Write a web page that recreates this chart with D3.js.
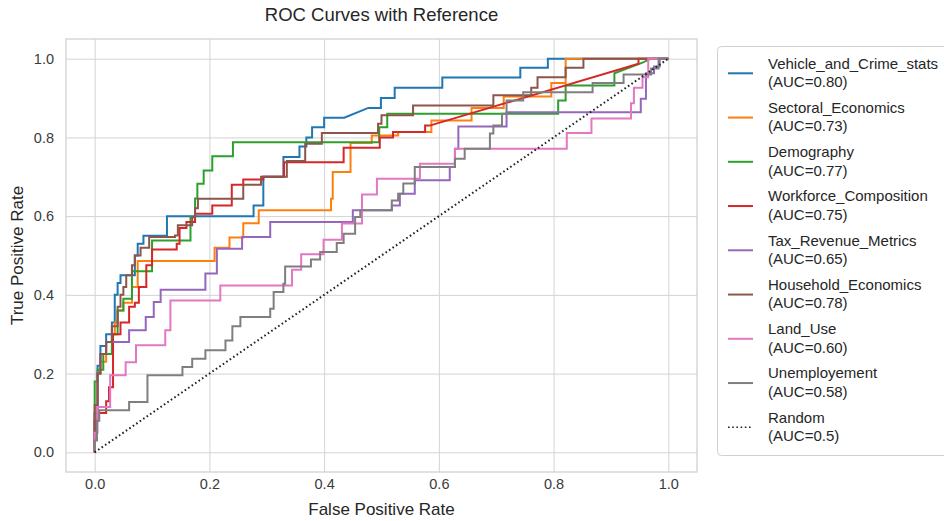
<!DOCTYPE html>
<html lang="en">
<head>
<meta charset="UTF-8">
<title>ROC Curves with Reference</title>
<script src="https://d3js.org/d3.v7.min.js"></script>
<style>
    body { margin: 0; background: #fff; }
    svg { display: block; font-family: "Liberation Sans", Arial, sans-serif; }
    .axis .domain { display: none; }
    .axis line { stroke: #d3d3d3; stroke-width: 1; }
    .axis text { fill: #3b3b3b; font-size: 14.5px; font-family: "Liberation Sans", Arial, sans-serif; }
    .curve { fill: none; stroke-width: 2; stroke-linejoin: miter; }
    .label { fill: #262626; }
</style>
</head>
<body>
<svg id="chart" width="944" height="521"></svg>
<script>
    // legend names and AUC values, same order as plotting
    const seriesNames = ['Vehicle_and_Crime_stats', 'Sectoral_Economics', 'Demography', 'Workforce_Composition',
        'Tax_Revenue_Metrics', 'Household_Economics', 'Land_Use', 'Unemployement'];
    const aucValues = ['0.80', '0.73', '0.77', '0.75', '0.65', '0.78', '0.60', '0.58'];
    const tickValues = [0, 0.2, 0.4, 0.6, 0.8, 1.0];

    // ROC points [fpr, tpr]
    const rocVehicle = [[0,0],[0,0.08],[0.005,0.08],[0.005,0.22],[0.01,0.22],[0.01,0.27],[0.02,0.27],[0.02,0.30],
        [0.03,0.30],[0.03,0.33],[0.035,0.33],[0.035,0.40],[0.04,0.40],[0.04,0.43],[0.045,0.43],[0.045,0.45],
        [0.07,0.45],[0.07,0.50],[0.075,0.50],[0.075,0.53],[0.085,0.53],[0.085,0.55],[0.126,0.55],[0.126,0.60],
        [0.277,0.60],[0.277,0.627],[0.294,0.627],[0.294,0.70],[0.329,0.70],[0.329,0.75],[0.357,0.75],[0.357,0.777],
        [0.369,0.777],[0.369,0.80],[0.379,0.80],[0.379,0.826],[0.40,0.826],[0.40,0.85],[0.435,0.85],[0.477,0.875],
        [0.499,0.875],[0.499,0.90],[0.523,0.90],[0.523,0.926],[0.606,0.926],[0.606,0.952],[0.742,0.952],
        [0.742,0.977],[0.79,0.977],[0.79,1],[1,1]];
    const rocSectoral = [[0,0],[0,0.1],[0.005,0.1],[0.005,0.2],[0.01,0.2],[0.01,0.23],[0.02,0.23],[0.02,0.28],
        [0.03,0.28],[0.03,0.30],[0.035,0.30],[0.035,0.33],[0.04,0.33],[0.04,0.36],[0.05,0.36],[0.05,0.38],
        [0.065,0.38],[0.065,0.42],[0.075,0.42],[0.075,0.486],[0.209,0.486],[0.209,0.52],[0.235,0.52],[0.235,0.546],
        [0.259,0.546],[0.259,0.582],[0.286,0.582],[0.286,0.615],[0.412,0.615],[0.412,0.644],[0.415,0.644],
        [0.415,0.712],[0.446,0.712],[0.446,0.786],[0.483,0.786],[0.483,0.805],[0.529,0.805],[0.529,0.814],
        [0.587,0.814],[0.587,0.843],[0.657,0.843],[0.657,0.875],[0.713,0.875],[0.713,0.904],[0.796,0.904],
        [0.796,0.938],[0.821,0.938],[0.821,1],[1,1]];
    const rocDemography = [[0,0],[0,0.18],[0.005,0.18],[0.005,0.21],[0.015,0.21],[0.015,0.25],[0.03,0.25],[0.03,0.30],
        [0.04,0.30],[0.04,0.36],[0.05,0.36],[0.05,0.39],[0.065,0.39],[0.065,0.46],[0.10,0.46],[0.10,0.538],
        [0.167,0.538],[0.167,0.598],[0.175,0.598],[0.175,0.645],[0.179,0.645],[0.179,0.682],[0.19,0.682],
        [0.19,0.716],[0.205,0.716],[0.205,0.752],[0.241,0.752],[0.241,0.788],[0.496,0.788],[0.496,0.826],
        [0.51,0.826],[0.51,0.86],[0.808,0.86],[0.808,0.894],[0.821,0.894],[0.821,0.932],[0.906,0.932],
        [0.906,0.963],[0.955,0.99],[0.97,1],[1,1]];
    const rocWorkforce = [[0,0],[0,0.08],[0.005,0.08],[0.005,0.1],[0.02,0.1],[0.02,0.13],[0.025,0.13],[0.025,0.165],
        [0.032,0.165],[0.032,0.30],[0.045,0.30],[0.045,0.33],[0.06,0.33],[0.06,0.37],[0.07,0.37],[0.07,0.38],
        [0.077,0.38],[0.077,0.42],[0.09,0.42],[0.09,0.475],[0.10,0.475],[0.10,0.515],[0.143,0.515],[0.143,0.53],
        [0.148,0.53],[0.148,0.57],[0.16,0.57],[0.16,0.585],[0.175,0.585],[0.175,0.606],[0.205,0.606],[0.205,0.627],
        [0.239,0.627],[0.239,0.68],[0.259,0.68],[0.259,0.693],[0.294,0.693],[0.294,0.70],[0.33,0.70],[0.33,0.737],
        [0.434,0.737],[0.434,0.774],[0.497,0.774],[0.497,0.80],[0.52,0.80],[0.52,0.814],[0.576,0.814],[0.576,0.83],
        [0.584,0.83],[0.948,0.987],[0.948,1],[1,1]];
    const rocTax = [[0,0],[0,0.1],[0.005,0.1],[0.005,0.2],[0.01,0.2],[0.01,0.25],[0.02,0.25],[0.02,0.28],
        [0.06,0.28],[0.06,0.31],[0.089,0.31],[0.089,0.344],[0.103,0.344],[0.103,0.382],[0.115,0.382],[0.115,0.413],
        [0.193,0.413],[0.193,0.454],[0.213,0.454],[0.213,0.517],[0.257,0.517],[0.257,0.547],[0.306,0.547],
        [0.306,0.585],[0.45,0.585],[0.45,0.615],[0.518,0.615],[0.518,0.627],[0.532,0.627],[0.532,0.657],
        [0.558,0.657],[0.558,0.691],[0.619,0.691],[0.619,0.725],[0.628,0.725],[0.628,0.771],[0.634,0.771],
        [0.634,0.828],[0.718,0.828],[0.718,0.864],[0.952,0.864],[0.952,0.898],[0.961,0.898],[0.961,0.963],
        [0.975,0.963],[0.975,0.98],[0.985,0.98],[0.985,1],[1,1]];
    const rocHousehold = [[0,0],[0,0.12],[0.005,0.12],[0.005,0.2],[0.01,0.2],[0.01,0.25],[0.02,0.25],[0.02,0.28],
        [0.03,0.28],[0.03,0.32],[0.04,0.32],[0.04,0.37],[0.045,0.37],[0.045,0.40],[0.05,0.40],[0.05,0.42],
        [0.055,0.42],[0.055,0.45],[0.065,0.45],[0.065,0.475],[0.07,0.475],[0.07,0.50],[0.08,0.50],[0.08,0.52],
        [0.095,0.52],[0.095,0.547],[0.14,0.547],[0.14,0.551],[0.145,0.551],[0.145,0.577],[0.17,0.577],[0.17,0.597],
        [0.175,0.597],[0.175,0.62],[0.18,0.62],[0.18,0.644],[0.259,0.644],[0.259,0.68],[0.29,0.68],[0.29,0.70],
        [0.335,0.70],[0.335,0.74],[0.367,0.74],[0.367,0.784],[0.396,0.784],[0.396,0.811],[0.494,0.811],
        [0.494,0.835],[0.50,0.835],[0.50,0.856],[0.555,0.856],[0.555,0.881],[0.695,0.881],[0.695,0.907],
        [0.761,0.907],[0.761,0.926],[0.772,0.926],[0.772,0.953],[0.821,0.953],[0.821,0.977],[0.852,0.977],
        [0.852,1],[1,1]];
    const rocLandUse = [[0,0],[0,0.05],[0.005,0.05],[0.005,0.115],[0.027,0.115],[0.027,0.196],[0.054,0.196],
        [0.054,0.229],[0.072,0.229],[0.072,0.272],[0.123,0.272],[0.123,0.31],[0.132,0.31],[0.132,0.386],
        [0.219,0.386],[0.219,0.424],[0.344,0.424],[0.344,0.464],[0.36,0.464],[0.36,0.503],[0.399,0.503],
        [0.399,0.54],[0.431,0.54],[0.431,0.581],[0.466,0.581],[0.466,0.655],[0.492,0.655],[0.492,0.695],
        [0.567,0.695],[0.567,0.733],[0.628,0.733],[0.628,0.771],[0.823,0.771],[0.823,0.811],[0.866,0.811],
        [0.866,0.848],[0.935,0.848],[0.935,0.887],[0.94,0.887],[0.94,0.926],[0.955,0.926],[0.955,0.953],
        [0.965,0.953],[0.965,1],[1,1]];
    const rocUnemployment = [[0,0],[0,0.03],[0.004,0.03],[0.004,0.08],[0.008,0.08],[0.008,0.107],[0.06,0.107],
        [0.06,0.128],[0.092,0.128],[0.092,0.196],[0.153,0.196],[0.153,0.217],[0.17,0.217],[0.17,0.238],
        [0.193,0.238],[0.193,0.259],[0.228,0.259],[0.228,0.284],[0.24,0.284],[0.24,0.32],[0.254,0.32],
        [0.254,0.344],[0.306,0.344],[0.306,0.365],[0.312,0.365],[0.312,0.407],[0.329,0.407],[0.329,0.428],
        [0.332,0.428],[0.332,0.472],[0.377,0.472],[0.377,0.49],[0.393,0.49],[0.393,0.509],[0.422,0.509],
        [0.422,0.532],[0.434,0.532],[0.434,0.555],[0.454,0.555],[0.454,0.598],[0.463,0.598],[0.463,0.615],
        [0.518,0.615],[0.518,0.64],[0.529,0.64],[0.529,0.657],[0.538,0.657],[0.538,0.683],[0.558,0.683],
        [0.558,0.725],[0.628,0.725],[0.628,0.746],[0.645,0.746],[0.645,0.771],[0.689,0.771],[0.689,0.81],
        [0.695,0.81],[0.695,0.83],[0.71,0.83],[0.71,0.86],[0.718,0.86],[0.718,0.894],[0.747,0.894],[0.747,0.915],
        [0.868,0.915],[0.868,0.938],[0.922,0.938],[0.922,0.96],[0.97,0.96],[0.97,0.975],[0.983,0.975],
        [0.983,1],[1,1]];
    const rocRandom = [[0,0],[1,1]];

    const rocData = [rocVehicle, rocSectoral, rocDemography, rocWorkforce, rocTax, rocHousehold, rocLandUse, rocUnemployment];
    const colors = d3.schemeCategory10;

    const series = seriesNames.map((name, i) => ({
        name: name,
        label: '(AUC=' + aucValues[i] + ')',
        points: rocData[i],
        color: colors[i],
        dotted: false
    }));
    series.push({ name: 'Random', label: '(AUC=0.5)', points: rocRandom, color: '#222', dotted: true });

    const svg = d3.select('#chart');
    const margin = { left: 66, top: 39, right: 697, bottom: 472 };
    const plotW = margin.right - margin.left;
    const plotH = margin.bottom - margin.top;

    const x = d3.scaleLinear().domain([-0.05, 1.05]).range([margin.left, margin.right]);
    const y = d3.scaleLinear().domain([-0.05, 1.05]).range([margin.bottom, margin.top]);

    // axes double as the grid
    svg.append('g')
        .attr('class', 'axis')
        .attr('transform', `translate(0,${margin.bottom})`)
        .call(d3.axisBottom(x).tickValues(tickValues).tickFormat(d3.format('.1f'))
            .tickSize(-plotH).tickPadding(7));

    svg.append('g')
        .attr('class', 'axis')
        .attr('transform', `translate(${margin.left},0)`)
        .call(d3.axisLeft(y).tickValues(tickValues).tickFormat(d3.format('.1f'))
            .tickSize(-plotW).tickPadding(12));

    // frame
    svg.append('rect')
        .attr('x', margin.left).attr('y', margin.top)
        .attr('width', plotW).attr('height', plotH)
        .attr('fill', 'none').attr('stroke', '#cfcfcf').attr('stroke-width', 1.25);

    const line = d3.line().x(d => x(d[0])).y(d => y(d[1]));

    svg.append('g')
        .selectAll('path')
        .data(series)
        .join('path')
        .attr('class', 'curve')
        .attr('d', d => line(d.points))
        .attr('stroke', d => d.color)
        .attr('stroke-width', d => d.dotted ? 1.6 : 2)
        .attr('stroke-dasharray', d => d.dotted ? '1.6,2.6' : null);

    // titles
    svg.append('text').attr('class', 'label')
        .attr('x', (margin.left + margin.right) / 2).attr('y', 20.5)
        .attr('text-anchor', 'middle').style('font-size', '18.5px')
        .text('ROC Curves with Reference');

    svg.append('text').attr('class', 'label')
        .attr('x', (margin.left + margin.right) / 2).attr('y', 515)
        .attr('text-anchor', 'middle').style('font-size', '17px')
        .text('False Positive Rate');

    svg.append('text').attr('class', 'label')
        .attr('transform', `translate(23,${(margin.top + margin.bottom) / 2}) rotate(-90)`)
        .attr('text-anchor', 'middle').style('font-size', '17px')
        .text('True Positive Rate');

    // legend
    const legend = svg.append('g');
    legend.append('rect')
        .attr('x', 717.5).attr('y', 46.5).attr('width', 240).attr('height', 409)
        .attr('rx', 4)
        .attr('fill', '#fff').attr('stroke', '#d0d0d0').attr('stroke-width', 1);

    const entry = legend.selectAll('g.entry')
        .data(series)
        .join('g')
        .attr('class', 'entry')
        .attr('transform', (d, i) => `translate(0,${73.3 + i * 44.25})`);

    entry.append('line')
        .attr('x1', 728).attr('x2', 753)
        .attr('stroke', d => d.color)
        .attr('stroke-width', d => d.dotted ? 1.6 : 2)
        .attr('stroke-dasharray', d => d.dotted ? '1.6,2.6' : null);

    entry.append('text').attr('class', 'label')
        .attr('x', 768).attr('y', -4.7)
        .style('font-size', '15px')
        .text(d => d.name);

    entry.append('text').attr('class', 'label')
        .attr('x', 768).attr('y', 13.7)
        .style('font-size', '15px')
        .text(d => d.label);
</script>
</body>
</html>
